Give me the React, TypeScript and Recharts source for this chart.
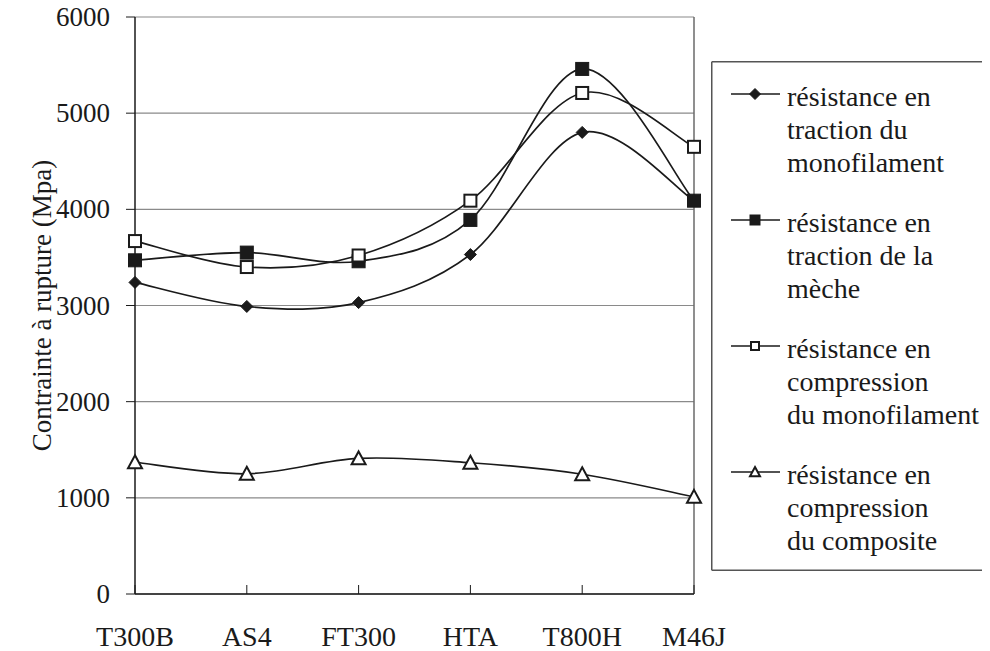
import React from 'react';
import { LineChart, Line, XAxis, YAxis, CartesianGrid, Legend, ReferenceLine, Label } from 'recharts';

const categories = ['T300B', 'AS4', 'FT300', 'HTA', 'T800H', 'M46J'];
const tractionMonofilament = [3240, 2990, 3030, 3530, 4800, 4090];
const tractionMeche = [3470, 3550, 3460, 3890, 5460, 4090];
const compressionMonofilament = [3670, 3400, 3520, 4090, 5210, 4650];
const compressionComposite = [1370, 1250, 1410, 1365, 1245, 1010];
const yTicks = [0, 1000, 2000, 3000, 4000, 5000, 6000];
const seriesKeys = ['s1', 's2', 's3', 's4'];
const seriesShapes = ['diamond', 'filledSquare', 'openSquare', 'triangle'];
const legendLabels = [
  ['résistance en', 'traction du', 'monofilament'],
  ['résistance en', 'traction de la', 'mèche'],
  ['résistance en', 'compression', 'du monofilament'],
  ['résistance en', 'compression', 'du composite'],
];
const yAxisTitle = 'Contrainte à rupture (Mpa)';

const data = categories.map((c, i) => ({
  name: c,
  s1: tractionMonofilament[i],
  s2: tractionMeche[i],
  s3: compressionMonofilament[i],
  s4: compressionComposite[i],
}));

const FONT = 'Liberation Serif, DejaVu Serif, serif';
const INK = '#1a1a1a';

// Excel-like smoothing (Catmull-Rom converted to Bezier)
const excelSmooth: any = (context: any) => {
  let pts: number[][] = [];
  return {
    areaStart() {},
    areaEnd() {},
    lineStart() {
      pts = [];
    },
    point(x: number, y: number) {
      pts.push([+x, +y]);
    },
    lineEnd() {
      const n = pts.length;
      if (!n) return;
      context.moveTo(pts[0][0], pts[0][1]);
      for (let i = 0; i < n - 1; i++) {
        const p0 = pts[i - 1] || pts[i];
        const p1 = pts[i];
        const p2 = pts[i + 1];
        const p3 = pts[i + 2] || p2;
        const c1x = p1[0] + (p2[0] - p0[0]) / 6;
        const c1y = p1[1] + (p2[1] - p0[1]) / 6;
        const c2x = p2[0] - (p3[0] - p1[0]) / 6;
        const c2y = p2[1] - (p3[1] - p1[1]) / 6;
        context.bezierCurveTo(c1x, c1y, c2x, c2y, p2[0], p2[1]);
      }
    },
  };
};

function MarkerShape({ shape, cx, cy, s }: { shape: string; cx: number; cy: number; s: number }) {
  const h = s / 2;
  if (shape === 'diamond') {
    return (
      <polygon
        points={`${cx},${cy - h} ${cx + h},${cy} ${cx},${cy + h} ${cx - h},${cy}`}
        fill={INK}
        stroke={INK}
        strokeWidth={1}
      />
    );
  }
  if (shape === 'filledSquare') {
    return <rect x={cx - h} y={cy - h} width={s} height={s} fill={INK} stroke={INK} strokeWidth={1} />;
  }
  if (shape === 'openSquare') {
    return <rect x={cx - h + 1} y={cy - h + 1} width={s - 2} height={s - 2} fill="#fff" stroke={INK} strokeWidth={2} />;
  }
  return (
    <polygon
      points={`${cx},${cy - h} ${cx + h},${cy + h * 0.85} ${cx - h},${cy + h * 0.85}`}
      fill="#fff"
      stroke={INK}
      strokeWidth={2}
    />
  );
}

const makeDot = (shape: string, size: number) => (props: any) => {
  const { cx, cy, index } = props;
  if (cx == null || cy == null) return <g key={`d-${shape}-${index}`} />;
  return (
    <g key={`d-${shape}-${index}`}>
      <MarkerShape shape={shape} cx={cx} cy={cy} s={size} />
    </g>
  );
};

const LegendBox = (props: any) => {
  const payload = [...(props.payload || [])].sort(
    (a: any, b: any) => seriesKeys.indexOf(a.dataKey) - seriesKeys.indexOf(b.dataKey)
  );
  const W = 279;
  const H = 510;
  return (
    <svg width={W} height={H} style={{ display: 'block' }}>
      <rect x={0} y={0} width={W} height={H} fill="#fff" />
      <line x1={0.75} y1={0.75} x2={W} y2={0.75} stroke="#555" strokeWidth={1.5} />
      <line x1={0.75} y1={0.75} x2={0.75} y2={H - 0.75} stroke="#555" strokeWidth={1.5} />
      <line x1={0.75} y1={H - 0.75} x2={W} y2={H - 0.75} stroke="#555" strokeWidth={1.5} />
      {payload.map((entry: any, i: number) => {
        const idx = seriesKeys.indexOf(entry.dataKey);
        const lines = legendLabels[idx] || [];
        const y0 = 35 + i * 126;
        return (
          <g key={i}>
            <line x1={20} y1={y0 - 2} x2={69} y2={y0 - 2} stroke={INK} strokeWidth={1.5} />
            <MarkerShape
              shape={seriesShapes[idx]}
              cx={44}
              cy={y0 - 2}
              s={seriesShapes[idx] === 'diamond' ? 11 : 10}
            />
            {lines.map((l, j) => (
              <text
                key={j}
                x={76}
                y={y0 + j * 33}
                dominantBaseline="central"
                fontFamily={FONT}
                fontSize={28}
                fill={INK}
              >
                {l}
              </text>
            ))}
          </g>
        );
      })}
    </svg>
  );
};

const YTitle = (props: any) => {
  const vb = props.viewBox || { x: 0, y: 0, width: 0, height: 0 };
  const cx = vb.x + 34;
  const cy = vb.y + vb.height / 2;
  return (
    <text
      x={cx}
      y={cy}
      transform={`rotate(-90 ${cx} ${cy})`}
      textAnchor="middle"
      dominantBaseline="central"
      fontFamily={FONT}
      fontSize={27}
      fill={INK}
    >
      {yAxisTitle}
    </text>
  );
};

const XTick = (props: any) => {
  const { x, y, payload } = props;
  return (
    <text x={x} y={y + 8} textAnchor="middle" dominantBaseline="central" fontFamily={FONT} fontSize={28} fill={INK}>
      {payload.value}
    </text>
  );
};

const YTick = (props: any) => {
  const { x, y, payload } = props;
  return (
    <text x={x} y={y} textAnchor="end" dominantBaseline="central" fontFamily={FONT} fontSize={27} fill={INK}>
      {payload.value}
    </text>
  );
};

export default function App() {
  return (
    <div style={{ width: 982, height: 643, background: '#fff' }}>
      <style>{`.recharts-surface { overflow: visible; }`}</style>
      <LineChart
        width={982}
        height={643}
        data={data}
        margin={{ top: 9, right: 296, bottom: 0, left: 0 }}
      >
        <CartesianGrid horizontal={true} vertical={false} stroke="#8a8a8a" strokeWidth={1.2} />
        <XAxis
          dataKey="name"
          type="category"
          scale="point"
          padding={{ left: 0, right: 0 }}
          height={57}
          axisLine={{ stroke: INK, strokeWidth: 1.5 }}
          tickLine={{ stroke: INK, strokeWidth: 1 }}
          tickSize={-9}
          tickMargin={43}
          tick={<XTick />}
          interval={0}
        />
        <YAxis
          domain={[0, 6000]}
          ticks={yTicks}
          width={127}
          interval={0}
          axisLine={{ stroke: INK, strokeWidth: 1.5 }}
          tickLine={{ stroke: INK, strokeWidth: 1 }}
          tickSize={9}
          tickMargin={16}
          tick={<YTick />}
        >
          <Label content={<YTitle />} />
        </YAxis>
        <ReferenceLine x="M46J" stroke="#6a6a6a" strokeWidth={1.5} />
        <Legend
          layout="vertical"
          align="center"
          verticalAlign="middle"
          content={<LegendBox />}
          wrapperStyle={{ position: 'absolute', left: 703, top: 53, width: 279, height: 510, margin: 0 }}
        />
        <Line
          dataKey="s1"
          name="résistance en traction du monofilament"
          type={excelSmooth}
          stroke={INK}
          strokeWidth={1.7}
          dot={makeDot('diamond', 12)}
          activeDot={false}
          isAnimationActive={false}
        />
        <Line
          dataKey="s2"
          name="résistance en traction de la mèche"
          type={excelSmooth}
          stroke={INK}
          strokeWidth={1.7}
          dot={makeDot('filledSquare', 13)}
          activeDot={false}
          isAnimationActive={false}
        />
        <Line
          dataKey="s3"
          name="résistance en compression du monofilament"
          type={excelSmooth}
          stroke={INK}
          strokeWidth={1.7}
          dot={makeDot('openSquare', 14)}
          activeDot={false}
          isAnimationActive={false}
        />
        <Line
          dataKey="s4"
          name="résistance en compression du composite"
          type={excelSmooth}
          stroke={INK}
          strokeWidth={1.7}
          dot={makeDot('triangle', 14)}
          activeDot={false}
          isAnimationActive={false}
        />
      </LineChart>
    </div>
  );
}
